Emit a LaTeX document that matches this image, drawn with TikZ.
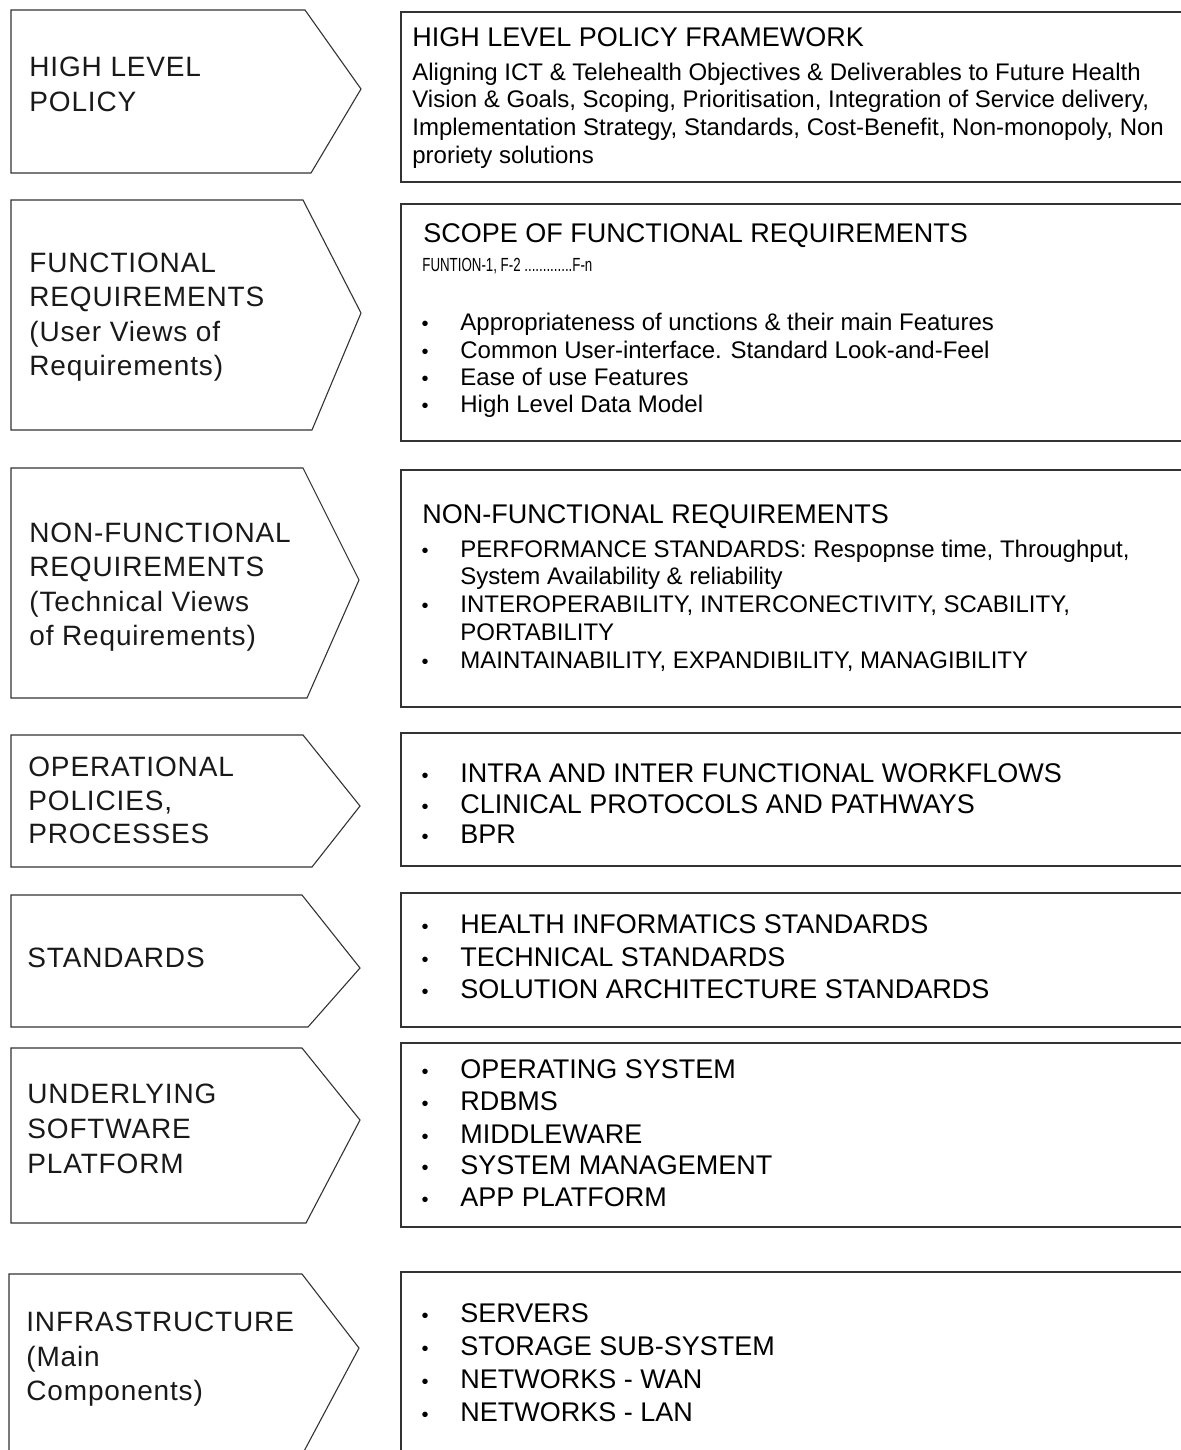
\documentclass[tikz,border=0pt]{standalone}
\usepackage{fontspec}
\setmainfont{Liberation Sans}
\newfontfamily\labelfont[LetterSpace=3]{Liberation Sans}
\newfontfamily\narrowfont[FakeStretch=0.7]{Liberation Sans}

\begin{document}
\begin{tikzpicture}[x=0.5pt,y=-0.5pt,
  frame/.style={draw=black!80, line width=0.55pt},
  lab/.style={anchor=base west, inner sep=0pt, text=black!90,
              font=\labelfont\fontsize{14}{16}\selectfont},
  head/.style={anchor=base west, inner sep=0pt, font=\fontsize{13.5}{16}\selectfont},
  body/.style={anchor=base west, inner sep=0pt, font=\fontsize{12}{14}\selectfont},
  big/.style={anchor=base west, inner sep=0pt, font=\fontsize{13.5}{16}\selectfont},
  small/.style={anchor=base west, inner sep=0pt, font=\narrowfont\fontsize{9.5}{12}\selectfont},
  bul/.style={anchor=base, inner sep=0pt, font=\fontsize{10}{12}\selectfont},
]
\newcommand\bitem[4]{%
  \node[bul] (#1d) at (425,#2) {\textbullet};
  \node[#3] (#1) at (460,#2) {#4};}

\useasboundingbox (0,0) rectangle (1181,1450);
\clip (0,0) rectangle (1181,1450);

% ---- left column: pointed label tags ----
\draw[frame] (11,10)   -- (305,10)   -- (361,89)   -- (311,173)  -- (11,173)  -- cycle;
\draw[frame] (11,200)  -- (303,200)  -- (361,313)  -- (312,430)  -- (11,430)  -- cycle;
\draw[frame] (11,468)  -- (303,468)  -- (359,580)  -- (307,698)  -- (11,698)  -- cycle;
\draw[frame] (11,735)  -- (303,735)  -- (360,806)  -- (312,867)  -- (11,867)  -- cycle;
\draw[frame] (11,895)  -- (302,895)  -- (360,968)  -- (308,1027) -- (11,1027) -- cycle;
\draw[frame] (11,1048) -- (302,1048) -- (360,1120) -- (306,1223) -- (11,1223) -- cycle;
\draw[frame] (9,1500)  -- (9,1274)   -- (302,1274) -- (359,1348) -- (278,1500);

\node[lab] (l1a) at (29,76)  {HIGH LEVEL};
\node[lab] (l1b) at (29,112) {POLICY};

\node[lab] (l2a) at (29,272) {FUNCTIONAL};
\node[lab] (l2b) at (29,306) {REQUIREMENTS};
\node[lab] (l2c) at (29,341) {(User Views of};
\node[lab] (l2d) at (29,375) {Requirements)};

\node[lab] (l3a) at (29,542) {NON-FUNCTIONAL};
\node[lab] (l3b) at (29,576) {REQUIREMENTS};
\node[lab] (l3c) at (29,611) {(Technical Views};
\node[lab] (l3d) at (29,645) {of Requirements)};

\node[lab] (l4a) at (28,776) {OPERATIONAL};
\node[lab] (l4b) at (28,810) {POLICIES,};
\node[lab] (l4c) at (28,843) {PROCESSES};

\node[lab] (l5a) at (27,967) {STANDARDS};

\node[lab] (l6a) at (27,1103) {UNDERLYING};
\node[lab] (l6b) at (27,1138) {SOFTWARE};
\node[lab] (l6c) at (27,1173) {PLATFORM};

\node[lab] (l7a) at (26,1331) {INFRASTRUCTURE};
\node[lab] (l7b) at (26,1366) {(Main};
\node[lab] (l7c) at (26,1400) {Components)};

% ---- right column: description boxes ----
\draw[frame] (401,12)   rectangle (1200,182);
\draw[frame] (401,204)  rectangle (1200,441);
\draw[frame] (401,470)  rectangle (1200,707);
\draw[frame] (401,733)  rectangle (1200,866);
\draw[frame] (401,893)  rectangle (1200,1027);
\draw[frame] (401,1043) rectangle (1200,1227);
\draw[frame] (401,1500) -- (401,1272) -- (1200,1272);

% box 1
\node[head] (r1t) at (412,47)  {HIGH LEVEL POLICY FRAMEWORK};
\node[body] (r1a) at (412,81)  {Aligning ICT \& Telehealth Objectives \& Deliverables to Future Health};
\node[body] (r1b) at (412,108) {Vision \& Goals, Scoping, Prioritisation, Integration of Service delivery,};
\node[body] (r1c) at (412,135) {Implementation Strategy, Standards, Cost-Benefit, Non-monopoly, Non};
\node[body] (r1d) at (412,163) {proriety solutions};

% box 2
\node[head]  (r2t) at (423,242) {SCOPE OF FUNCTIONAL REQUIREMENTS};
\node[small] (r2s) at (422,271) {FUNTION-1, F-2 .............F-n};
\bitem{r2a}{330}{body}{Appropriateness of unctions \& their main Features}
\bitem{r2b}{358}{body}{Common User-interface. Standard Look-and-Feel}
\bitem{r2c}{385}{body}{Ease of use Features}
\bitem{r2d}{412}{body}{High Level Data Model}

% box 3
\node[head] (r3t) at (422,523) {NON-FUNCTIONAL REQUIREMENTS};
\bitem{r3a}{557}{body}{PERFORMANCE STANDARDS: Respopnse time, Throughput,}
\node[body] (r3b) at (460,584) {System Availability \& reliability};
\bitem{r3c}{612}{body}{INTEROPERABILITY, INTERCONECTIVITY, SCABILITY,}
\node[body] (r3d) at (460,640) {PORTABILITY};
\bitem{r3e}{668}{body}{MAINTAINABILITY, EXPANDIBILITY, MANAGIBILITY}

% box 4
\bitem{r4a}{782}{big}{INTRA AND INTER FUNCTIONAL WORKFLOWS}
\bitem{r4b}{813}{big}{CLINICAL PROTOCOLS AND PATHWAYS}
\bitem{r4c}{843}{big}{BPR}

% box 5
\bitem{r5a}{933}{big}{HEALTH INFORMATICS STANDARDS}
\bitem{r5b}{966}{big}{TECHNICAL STANDARDS}
\bitem{r5c}{998}{big}{SOLUTION ARCHITECTURE STANDARDS}

% box 6
\bitem{r6a}{1078}{big}{OPERATING SYSTEM}
\bitem{r6b}{1110}{big}{RDBMS}
\bitem{r6c}{1143}{big}{MIDDLEWARE}
\bitem{r6d}{1174}{big}{SYSTEM MANAGEMENT}
\bitem{r6e}{1206}{big}{APP PLATFORM}

% box 7
\bitem{r7a}{1322}{big}{SERVERS}
\bitem{r7b}{1355}{big}{STORAGE SUB-SYSTEM}
\bitem{r7c}{1388}{big}{NETWORKS - WAN}
\bitem{r7d}{1421}{big}{NETWORKS - LAN}
\end{tikzpicture}
\end{document}
